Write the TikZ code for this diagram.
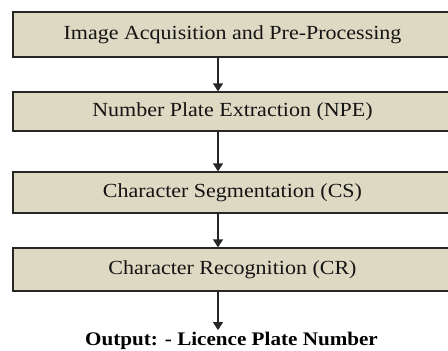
\documentclass[tikz,border=0pt]{standalone}
\usepackage{fontspec}
\setmainfont{Liberation Serif}[FakeStretch=1.1]
\usetikzlibrary{arrows.meta}
\definecolor{stepfill}{HTML}{DDD9C3}

\begin{document}
\begin{tikzpicture}[x=1pt, y=-1pt,
    stage/.style={draw=black!85, line width=1.3pt, fill=stepfill, minimum width=439pt,
        inner sep=0pt, font=\fontsize{20}{22}\selectfont, text=black!92},
    flow/.style={-{Triangle[length=8pt,width=10pt]}, line width=1.3pt, black!85},
    ]
    \useasboundingbox (0,0) rectangle (448,351);
    \coordinate (axis) at (218,0);
    \node[stage, minimum height=45pt] (acq) at (232.5,34.5) {Image Acquisition and Pre-Processing};
    \node[stage, minimum height=39pt] (npe) at (232.5,111.5) {Number Plate Extraction (NPE)};
    \node[stage, minimum height=41pt] (cs) at (232.5,192.5) {Character Segmentation (CS)};
    \node[stage, minimum height=43pt] (cr) at (232.5,269.5) {Character Recognition (CR)};
    \node[inner sep=2pt, font=\fontsize{19.2}{22}\selectfont\bfseries] (out) at (231.5,341) {Output: - Licence Plate Number};
    \draw[flow] (acq.south -| axis) -- (npe.north -| axis);
    \draw[flow] (npe.south -| axis) -- (cs.north -| axis);
    \draw[flow] (cs.south -| axis) -- (cr.north -| axis);
    \draw[flow] (cr.south -| axis) -- (out.north -| axis);
\end{tikzpicture}
\end{document}
